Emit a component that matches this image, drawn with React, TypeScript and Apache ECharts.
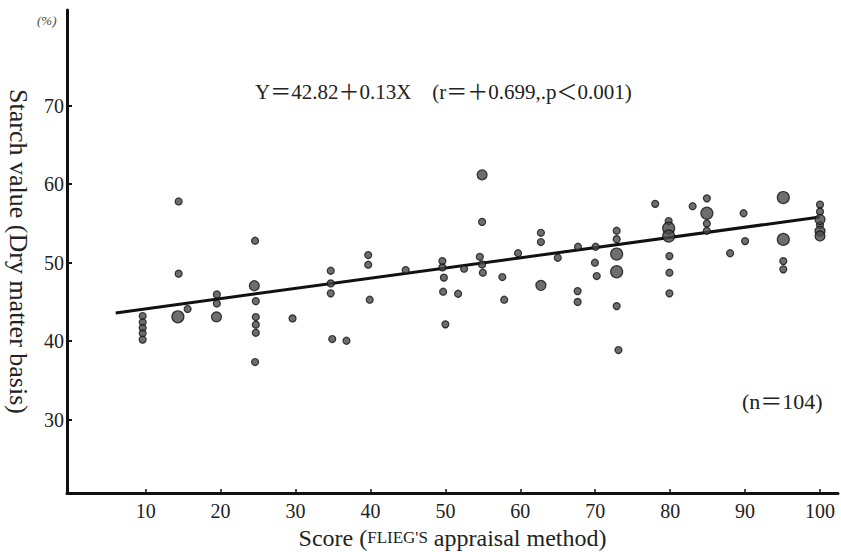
import React, { useEffect, useRef } from "react";
import * as echarts from "echarts";

const xTicks = [10, 20, 30, 40, 50, 60, 70, 80, 90, 100];
const yTicks = [30, 40, 50, 60, 70];

// small dots [score, starch %]
const normalDots: number[][] = [
  [9.6, 43.2], [9.6, 42.4], [9.6, 41.7], [9.6, 41.0], [9.6, 40.2],
  [14.4, 57.8], [14.4, 48.6], [15.6, 44.1],
  [19.5, 45.96], [19.5, 44.8],
  [24.6, 52.8], [24.7, 45.1], [24.7, 43.07], [24.7, 42.1], [24.7, 41.07], [24.6, 37.34],
  [29.6, 42.9],
  [34.7, 48.97], [34.7, 47.36], [34.7, 46.09], [34.9, 40.27], [36.8, 40.05],
  [39.7, 50.97], [39.7, 49.74], [39.9, 45.28],
  [44.7, 49.06],
  [49.6, 50.2], [49.6, 49.4], [49.8, 48.1], [49.7, 46.3], [50.0, 42.14],
  [51.7, 46.04], [52.5, 49.23],
  [54.9, 55.2], [54.6, 50.75], [54.9, 49.78], [55.0, 48.72],
  [57.6, 48.17], [57.85, 45.28], [59.7, 51.2],
  [62.75, 53.81], [62.75, 52.63], [65.0, 50.63],
  [67.7, 52.03], [67.65, 46.38], [67.65, 45.0],
  [70.05, 52.03], [69.96, 50.0], [70.2, 48.3],
  [72.86, 54.07], [72.86, 53.0], [72.86, 44.47], [73.1, 38.87],
  [78.0, 57.5],
  [79.8, 55.3], [79.9, 50.84], [79.9, 48.72], [79.9, 46.09],
  [83.0, 57.2],
  [84.9, 58.2], [84.9, 55.0], [84.9, 54.07],
  [88.0, 51.2],
  [89.8, 56.3], [90.0, 52.75],
  [95.1, 50.2], [95.1, 49.15],
  [100.0, 57.4], [100.0, 56.5], [100.0, 54.8],
];

// medium dots
const mediumDots: number[][] = [
  [19.45, 43.1], [24.5, 47.06], [54.9, 61.2], [62.75, 47.1],
  [100.0, 55.5], [100.0, 54.0], [100.0, 53.4],
];

// large dots
const largeDots: number[][] = [
  [14.3, 43.1],
  [72.86, 51.1], [72.86, 48.84],
  [79.8, 54.4], [79.8, 53.4],
  [84.9, 56.3], [95.1, 58.3], [95.1, 52.97],
];

// regression line Y = 42.82 + 0.13X, end points
const fitLine: number[][] = [[6, 43.6], [100, 55.82]];

const FONT = "'Liberation Serif', 'Noto Sans CJK JP', serif";

export default function App() {
  const ref = useRef<HTMLDivElement>(null);
  useEffect(() => {
    if (!ref.current) return;
    const chart = echarts.init(ref.current, undefined, { renderer: "svg" });
    const dotStyle = { color: "#4a4a4a", borderColor: "#111", borderWidth: 1.2 };
    chart.setOption({
      animation: false,
      backgroundColor: "#ffffff",
      textStyle: { fontFamily: FONT },
      grid: { left: 67, top: 10, right: 3, bottom: 59, containLabel: false, outerBoundsMode: "none" },
      xAxis: {
        type: "value",
        min: -0.5,
        max: 102.4,
        splitLine: { show: false },
        axisLine: { onZero: false, lineStyle: { color: "#111", width: 3 } },
        axisTick: { inside: true, length: 4, customValues: xTicks, lineStyle: { color: "#111", width: 1.5 } },
        axisLabel: { customValues: xTicks, margin: 8, fontSize: 20, color: "#222", fontFamily: FONT },
        name: "Score ({sc|FLIEG'S} appraisal method)",
        nameLocation: "middle",
        nameGap: 32,
        nameTextStyle: {
          fontSize: 24,
          color: "#222",
          fontFamily: FONT,
          rich: { sc: { fontSize: 17, color: "#222", fontFamily: FONT } },
        },
      },
      yAxis: {
        type: "value",
        min: 20.65,
        max: 82.2,
        splitLine: { show: false },
        axisLine: { onZero: false, lineStyle: { color: "#111", width: 3 } },
        axisTick: { inside: true, length: 5, customValues: yTicks, lineStyle: { color: "#111", width: 2 } },
        axisLabel: { customValues: yTicks, margin: 3, fontSize: 20, color: "#222", fontFamily: FONT },
        name: "Starch value (Dry matter basis)",
        nameLocation: "middle",
        nameRotate: -90,
        nameGap: 35,
        nameTextStyle: { fontSize: 26, color: "#222", fontFamily: FONT },
      },
      graphic: [
        {
          type: "text",
          left: 255,
          top: 81,
          style: {
            text: "Y＝42.82＋0.13X　(r＝＋0.699,.p＜0.001)",
            fontSize: 21,
            fill: "#222",
            fontFamily: FONT,
          },
        },
        {
          type: "text",
          left: 742,
          top: 390,
          style: { text: "(n＝104)", fontSize: 22, fill: "#222", fontFamily: FONT },
        },
        {
          type: "text",
          left: 37,
          top: 14,
          style: { text: "(%)", fontSize: 13, fontStyle: "italic", fill: "#444", fontFamily: FONT },
        },
      ],
      series: [
        {
          type: "line",
          data: fitLine,
          symbol: "none",
          lineStyle: { color: "#111", width: 3 },
          z: 3,
        },
        { type: "scatter", data: normalDots, symbolSize: 7, itemStyle: dotStyle, z: 4 },
        { type: "scatter", data: mediumDots, symbolSize: 10, itemStyle: dotStyle, z: 4 },
        { type: "scatter", data: largeDots, symbolSize: 12, itemStyle: dotStyle, z: 4 },
      ],
    });
    return () => chart.dispose();
  }, []);
  return (
    <div
      ref={ref}
      style={{ position: "fixed", left: 0, top: 0, width: 841, height: 552, background: "#fff" }}
    />
  );
}
